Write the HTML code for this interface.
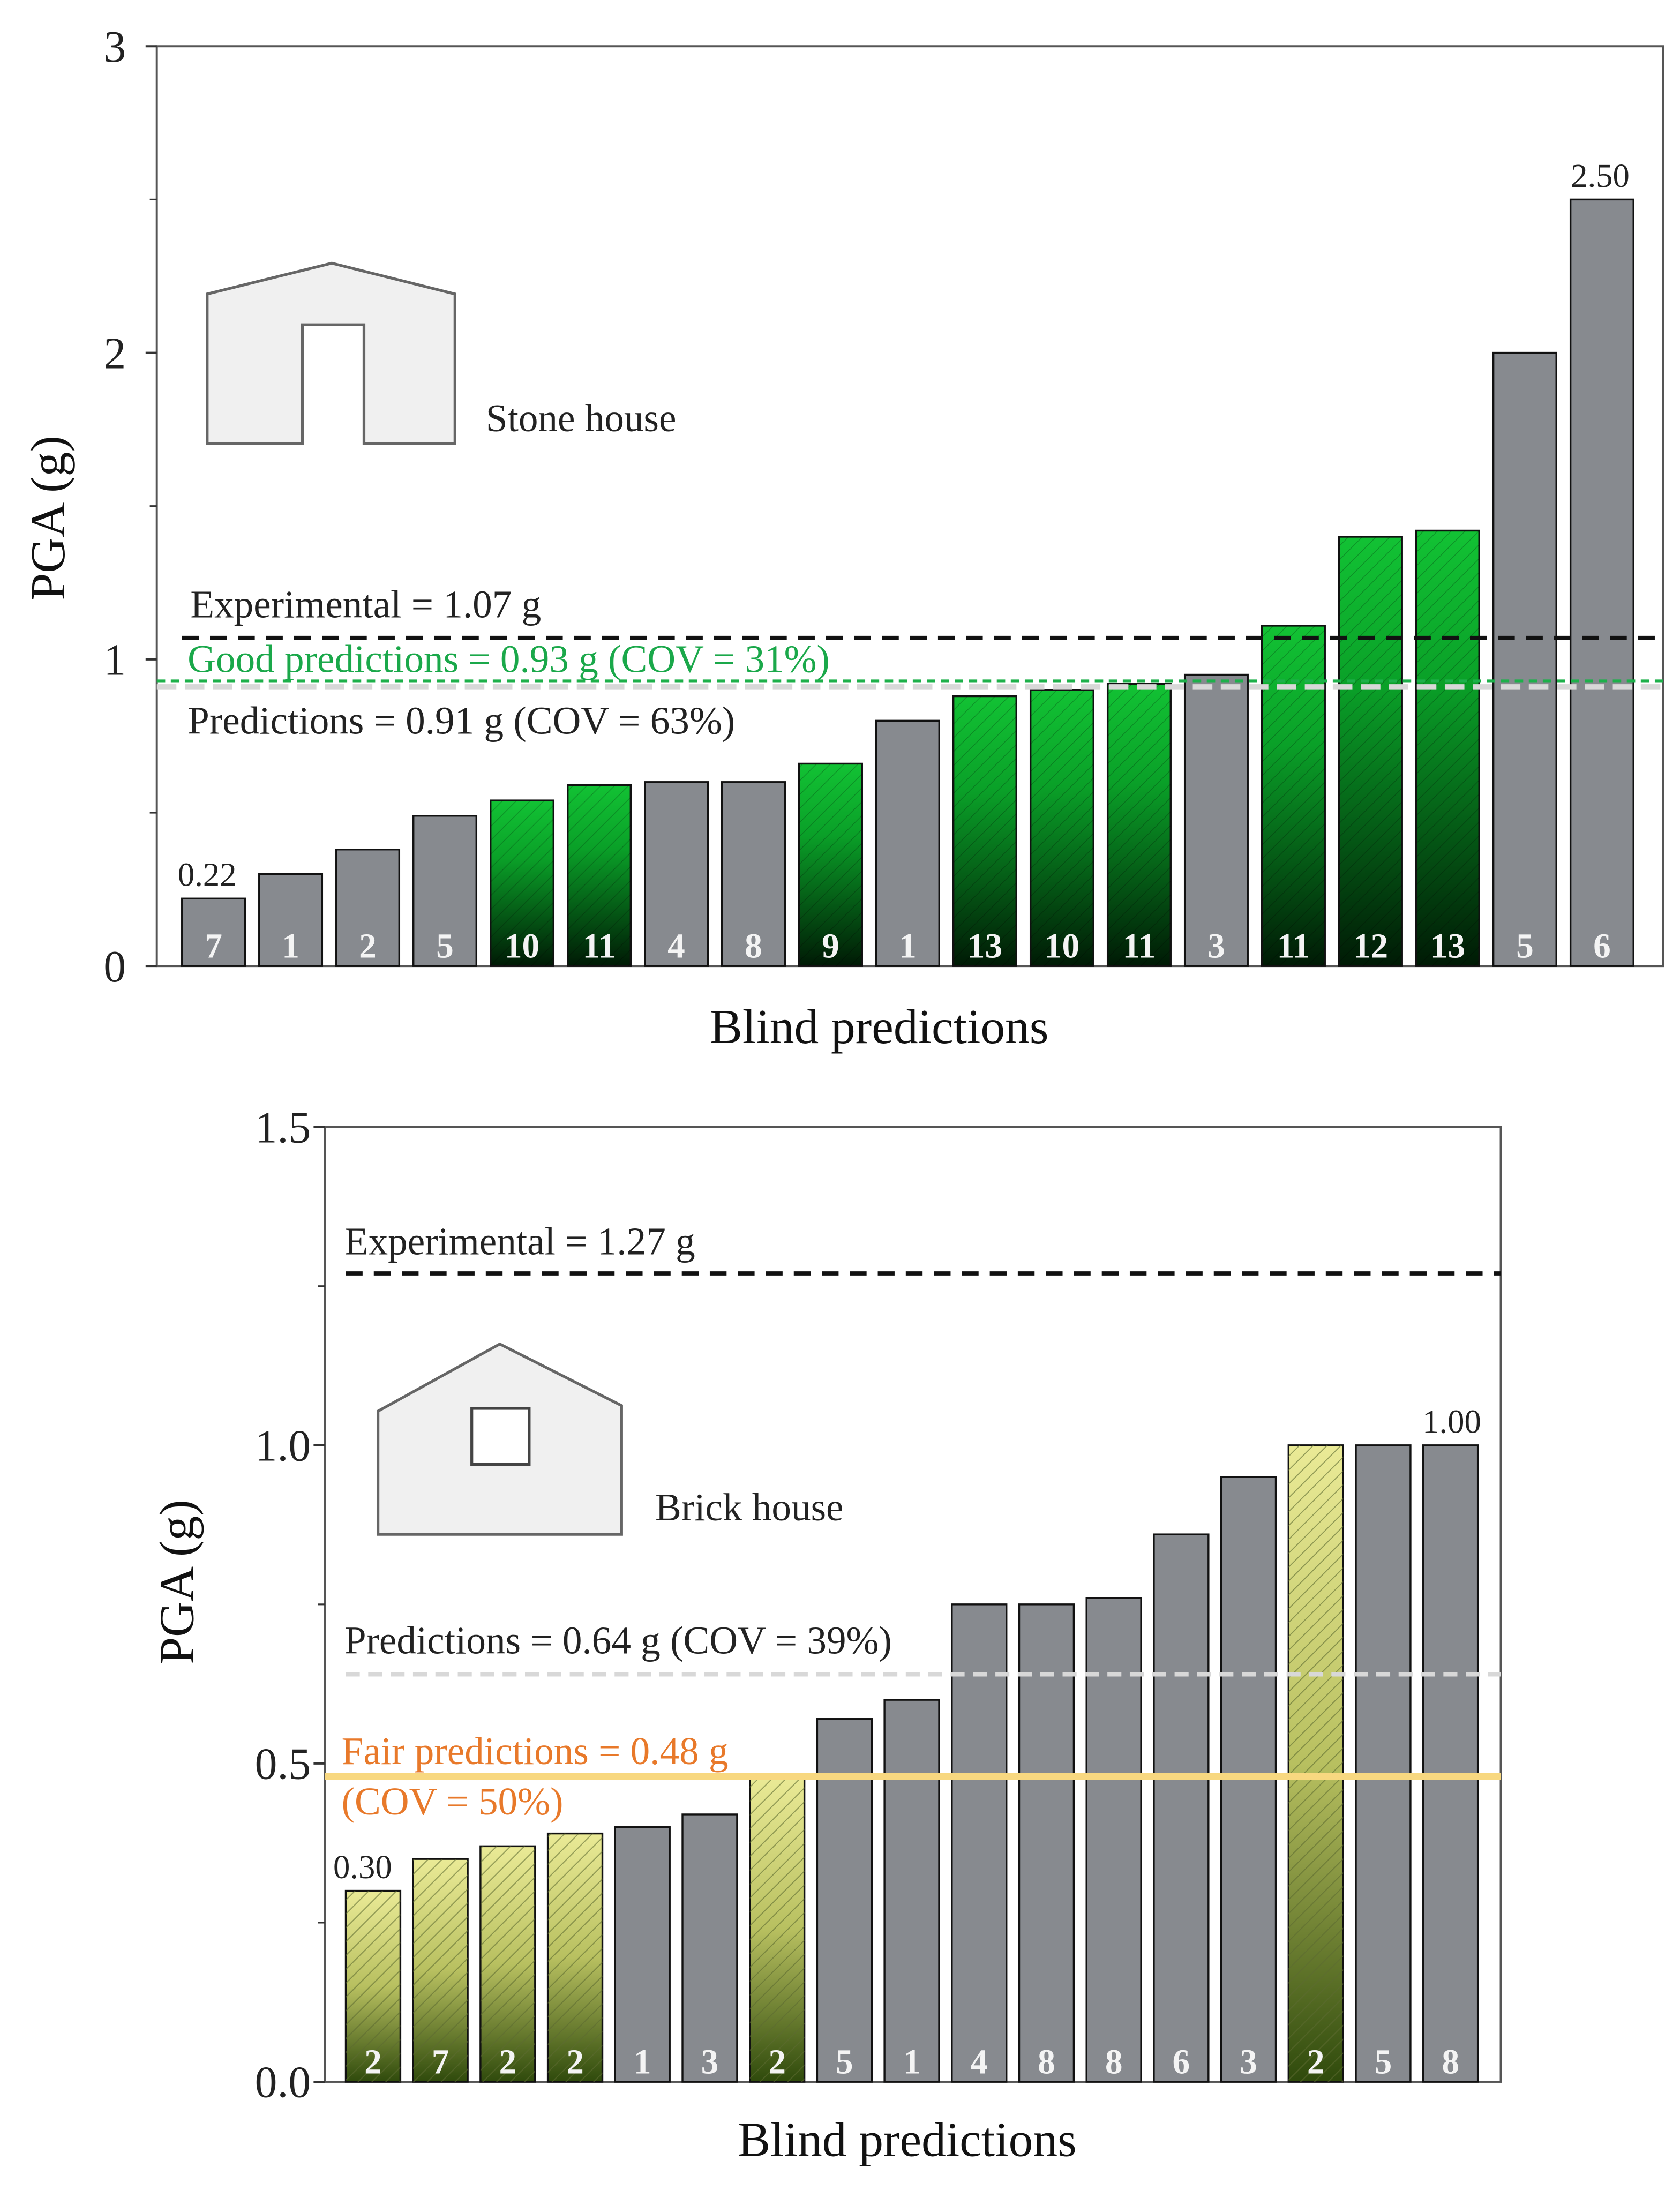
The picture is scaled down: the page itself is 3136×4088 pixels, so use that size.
<!DOCTYPE html>
<html><head><meta charset="utf-8"><style>
html,body{margin:0;padding:0;background:#fff;}
svg{display:block;font-family:"Liberation Serif",serif;}
</style></head><body>
<svg id="fig" width="3136" height="4088" viewBox="0 0 1200 1564.3" preserveAspectRatio="none">
<defs>
<linearGradient id="gGreen" x1="0" y1="0" x2="0" y2="1"><stop offset="0" stop-color="#12c234"/><stop offset="0.35" stop-color="#0aa028"/><stop offset="1" stop-color="#001a05"/></linearGradient>
<linearGradient id="gYel" x1="0" y1="0" x2="0" y2="1"><stop offset="0" stop-color="#eaea96"/><stop offset="0.5" stop-color="#b8c060"/><stop offset="1" stop-color="#2f4a0c"/></linearGradient>
<pattern id="hatch" width="7" height="7" patternUnits="userSpaceOnUse" patternTransform="rotate(45)"><line x1="0" y1="0" x2="0" y2="7" stroke="#5c6a30" stroke-width="1.5" opacity="0.6"/></pattern>
<pattern id="hatchG" width="7" height="7" patternUnits="userSpaceOnUse" patternTransform="rotate(45)"><line x1="0" y1="0" x2="0" y2="7" stroke="#000" stroke-width="1" opacity="0.25"/></pattern>
</defs>
<g id="topChart"></g>
<g id="botChart"></g>
</svg>
<script>
const NS="http://www.w3.org/2000/svg";
// Top chart data
const topCats=["7","1","2","5","10","11","4","8","9","1","13","10","11","3","11","12","13","5","6"];
const topVals=[0.22,0.30,0.38,0.49,0.54,0.59,0.60,0.60,0.66,0.80,0.88,0.90,0.92,0.95,1.11,1.40,1.42,2.00,2.50];
const topGood=[0,0,0,0,1,1,0,0,1,0,1,1,1,0,1,1,1,0,0];
const topTicks=["0","1","2","3"];
const topRefs=[1.07,0.93,0.91];
// Bottom chart data
const botCats=["2","7","2","2","1","3","2","5","1","4","8","8","6","3","2","5","8"];
const botVals=[0.30,0.35,0.37,0.39,0.40,0.42,0.48,0.57,0.60,0.75,0.75,0.76,0.86,0.95,1.00,1.00,1.00];
const botFair=[1,1,1,1,0,0,1,0,0,0,0,0,0,0,1,0,0];
const botTicks=["0.0","0.5","1.0","1.5"];
const botRefs=[1.27,0.64,0.48];

function mk(parent,tag,attrs,text){const e=document.createElementNS(NS,tag);for(const k in attrs)e.setAttribute(k,attrs[k]);if(text!==undefined)e.textContent=text;parent.appendChild(e);return e;}

function chart(g,cfg){
  const {L,R,T,B,max,cats,vals,flag,fillFlag,firstX,pitch,bw,ticks,tickX,minor}=cfg;
  const y=v=>B-(v/max)*(B-T);
  const x=i=>firstX+i*pitch;
  const frame=mk(g,"rect",{x:L,y:T,width:R-L,height:B-T,fill:"#fff",stroke:"#555","stroke-width":1.5});
  
  
  ticks.forEach(t=>{
    const v=parseFloat(t);
    const tl=mk(g,"line",{x1:L-8,x2:L,y1:y(v),y2:y(v),stroke:"#333","stroke-width":1.5});
    
    
    const tx=mk(g,"text",{x:tickX,y:y(v)+11,"text-anchor":"end","font-size":32,fill:"#222"},t);
    
    
  });
  for(let v=minor;v<max;v+=minor*2){
    const ml=mk(g,"line",{x1:L-5,x2:L,y1:y(v),y2:y(v),stroke:"#333","stroke-width":1.2});
    
    
  }
  vals.forEach((v,i)=>{
    const tp=y(v);
    const r=mk(g,"rect",{x:x(i),y:tp,width:bw,height:B-tp,fill:flag[i]?fillFlag:"#878a8f",stroke:"#111","stroke-width":1.3});
    
    
    if(flag[i]){
      const h=mk(g,"rect",{x:x(i),y:tp,width:bw,height:B-tp,fill:cfg.hatch,stroke:"none"});
      
      
    }
    const lb=mk(g,"text",{x:x(i)+bw/2,y:B-6,"text-anchor":"middle","font-size":25,"font-weight":"bold",fill:"#f4f4f4"},cats[i]);
    
    
  });
  return {x,y};
}

const gTop=document.getElementById("topChart");
const t=chart(gTop,{L:112,R:1188,T:33,B:690,max:3,cats:topCats,vals:topVals,flag:topGood,fillFlag:"url(#gGreen)",hatch:"url(#hatchG)",firstX:130,pitch:55.1,bw:45,ticks:topTicks,tickX:90,minor:0.5});
let ln=mk(gTop,"line",{x1:130,x2:1188,y1:t.y(topRefs[0]),y2:t.y(topRefs[0]),stroke:"#111","stroke-width":3,"stroke-dasharray":"12 8"});

ln=mk(gTop,"line",{x1:112,x2:1188,y1:t.y(topRefs[2]),y2:t.y(topRefs[2]),stroke:"#d8d8d8","stroke-width":4,"stroke-dasharray":"14 6"});

ln=mk(gTop,"line",{x1:112,x2:1188,y1:t.y(topRefs[1]),y2:t.y(topRefs[1]),stroke:"#1db04a","stroke-width":2,"stroke-dasharray":"6 4"});

let tx=mk(gTop,"text",{x:127,y:t.y(0.22)-9,"font-size":24,fill:"#222"},"0.22");
tx=mk(gTop,"text",{x:1122,y:t.y(2.5)-9,"font-size":24,fill:"#222"},"2.50");

const gBot=document.getElementById("botChart");
const b=chart(gBot,{L:232,R:1072,T:805,B:1487,max:1.5,cats:botCats,vals:botVals,flag:botFair,fillFlag:"url(#gYel)",hatch:"url(#hatch)",firstX:247,pitch:48.1,bw:39,ticks:botTicks,tickX:222,minor:0.25});
ln=mk(gBot,"line",{x1:247,x2:1072,y1:b.y(botRefs[0]),y2:b.y(botRefs[0]),stroke:"#111","stroke-width":3,"stroke-dasharray":"12 8"});

ln=mk(gBot,"line",{x1:247,x2:1072,y1:b.y(botRefs[1]),y2:b.y(botRefs[1]),stroke:"#d8d8d8","stroke-width":3,"stroke-dasharray":"10 6"});

ln=mk(gBot,"line",{x1:232,x2:1072,y1:b.y(botRefs[2]),y2:b.y(botRefs[2]),stroke:"#f8d880","stroke-width":5});

tx=mk(gBot,"text",{x:238,y:b.y(0.30)-9,"font-size":24,fill:"#222"},"0.30");
tx=mk(gBot,"text",{x:1016,y:b.y(1.0)-9,"font-size":24,fill:"#222"},"1.00");
</script>
<svg width="3136" height="4088" viewBox="0 0 1200 1564.3" preserveAspectRatio="none" style="position:absolute;left:0;top:0;font-family:'Liberation Serif',serif;">
<g fill="#222" font-size="28">
<text x="136" y="441">Experimental = 1.07 g</text>
<text x="134" y="480" fill="#1aa84a">Good predictions = 0.93 g (COV = 31%)</text>
<text x="134" y="524">Predictions = 0.91 g (COV = 63%)</text>
<text x="347" y="308">Stone house</text>
<text x="246" y="896">Experimental = 1.27 g</text>
<text x="246" y="1181">Predictions = 0.64 g (COV = 39%)</text>
<text x="244" y="1260" fill="#e8792a">Fair predictions = 0.48 g</text>
<text x="244" y="1296" fill="#e8792a">(COV = 50%)</text>
<text x="468" y="1086">Brick house</text>
</g>
<g font-size="35" fill="#111">
<text x="628" y="745" text-anchor="middle">Blind predictions</text>
<text transform="translate(46,370) rotate(-90)" text-anchor="middle">PGA (g)</text>
<text x="648" y="1540" text-anchor="middle">Blind predictions</text>
<text transform="translate(138,1130) rotate(-90)" text-anchor="middle">PGA (g)</text>
</g>
<polygon points="148,210 237,188 325,210 325,317 260,317 260,232 216,232 216,317 148,317" fill="#f0f0f0" stroke="#666" stroke-width="2"/>
<polygon points="270,1008 357,960 444,1004 444,1096 270,1096" fill="#f0f0f0" stroke="#666" stroke-width="2"/>
<rect x="337" y="1006" width="41" height="40" fill="#fff" stroke="#444" stroke-width="2"/>
</svg>
</body></html>
